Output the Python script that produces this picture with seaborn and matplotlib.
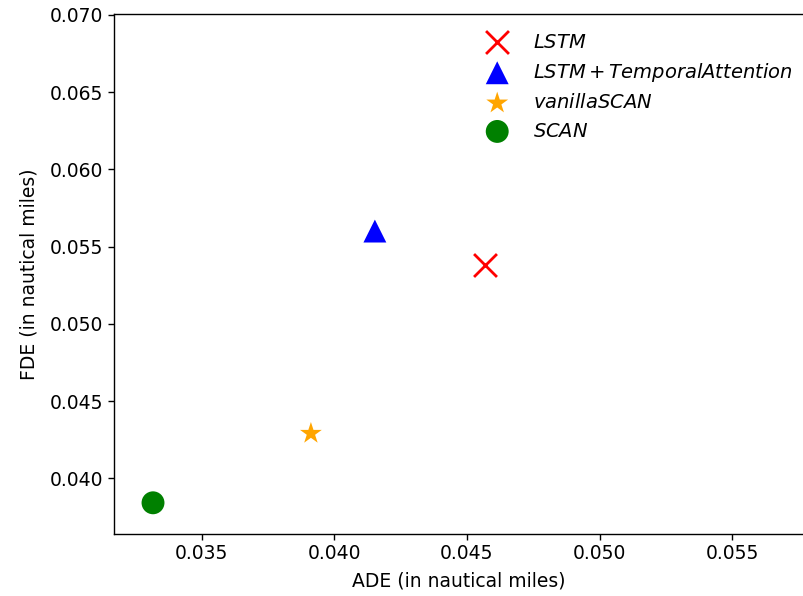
import matplotlib
matplotlib.use("Agg")
import matplotlib.pyplot as plt
import seaborn as sns
import pandas as pd

models = [r"$LSTM$", r"$LSTM + TemporalAttention$", r"$vanillaSCAN$", r"$SCAN$"]
ade = [0.04567, 0.04153, 0.03912, 0.03317]
fde = [0.05379, 0.05601, 0.04291, 0.03842]
colors = ["red", "blue", "orange", "green"]
markers = ["x", "^", "*", "o"]

df = pd.DataFrame({"model": models, "ADE": ade, "FDE": fde})

sns.set_style("ticks")
plt.rcParams["font.family"] = ["DejaVu Sans"]
plt.rcParams["mathtext.fontset"] = "dejavusans"
plt.rcParams["text.color"] = "black"
plt.rcParams["axes.labelcolor"] = "black"
plt.rcParams["xtick.color"] = "black"
plt.rcParams["ytick.color"] = "black"

FS = 13.5

fig = plt.figure(figsize=(8.04, 5.96), dpi=100)
ax = fig.add_axes([114 / 804, 62 / 596, 690 / 804, 520 / 596])

for i, m in enumerate(models):
    sub = df[df["model"] == m]
    if markers[i] == "x":
        sns.scatterplot(data=sub, x="ADE", y="FDE", marker="x", color=colors[i],
                        s=272, linewidth=2.0, label=m, ax=ax)
    else:
        sns.scatterplot(data=sub, x="ADE", y="FDE", marker=markers[i], color=colors[i],
                        s=272, linewidth=0, edgecolor="none", label=m, ax=ax)

ax.set_xlim(0.0317, 0.0577)
ax.set_ylim(0.0364, 0.07006)
ax.set_xticks([0.035, 0.040, 0.045, 0.050, 0.055])
ax.set_yticks([0.040, 0.045, 0.050, 0.055, 0.060, 0.065, 0.070])
ax.set_xticklabels(["0.035", "0.040", "0.045", "0.050", "0.055"])
ax.set_yticklabels(["0.040", "0.045", "0.050", "0.055", "0.060", "0.065", "0.070"])
ax.tick_params(labelsize=FS, length=4, width=1, color="black", labelcolor="black")
ax.set_xlabel("ADE (in nautical miles)", fontsize=FS, color="black", labelpad=6)
ax.set_ylabel("FDE (in nautical miles)", fontsize=FS, color="black", labelpad=8)
ax.spines["right"].set_visible(False)
for s in ["left", "top", "bottom"]:
    ax.spines[s].set_color("black")
    ax.spines[s].set_linewidth(1.0)

leg = ax.legend(loc="upper right", frameon=False, fontsize=14,
                bbox_to_anchor=(1.009, 0.998), handletextpad=0.85, labelspacing=0.48)
for t in leg.get_texts():
    t.set_color("black")

fig.savefig("out.png", dpi=100)
